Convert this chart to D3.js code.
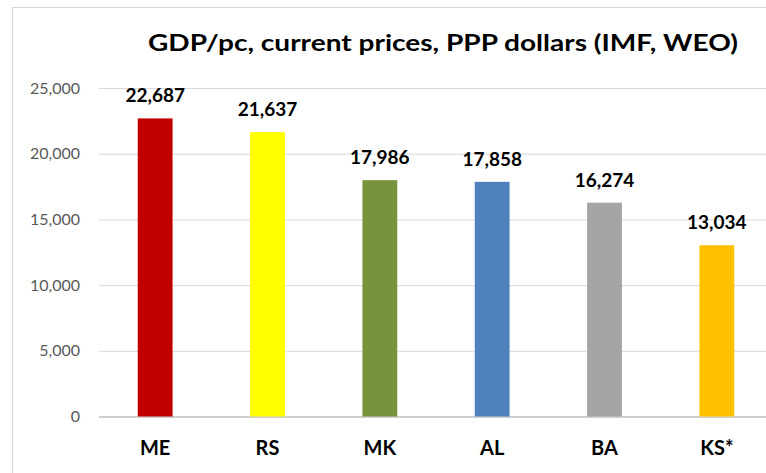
<!DOCTYPE html>
<html>
<head>
<meta charset="utf-8">
<script src="https://cdn.jsdelivr.net/npm/d3@7"></script>
<style>
    body { margin: 0; background: #fff; }
    svg { display: block; font-family: Lato, "Open Sans", sans-serif; }
</style>
</head>
<body>
<div id="viz-gdp"></div>
<script>
/**********************/
/******* data         */
/**********************/

const countries = ["ME", "RS", "MK", "AL", "BA", "KS*"];
const gdpValues = [22687, 21637, 17986, 17858, 16274, 13034];
const barColors = ["#c00000", "#ffff00", "#77933c", "#4f81bd", "#a5a5a5", "#ffc000"];
const yTicks = [0, 5000, 10000, 15000, 20000, 25000];
const chartTitle = "GDP/pc, current prices, PPP dollars (IMF, WEO)";

const gdpData = countries.map((c, i) => ({ country: c, value: gdpValues[i], color: barColors[i] }));

/**********************/
/******* d3           */
/**********************/

const width = 766, height = 473;
const margin = { top: 88, right: -7, bottom: 56, left: 99 };

const svg = d3.select("#viz-gdp")
    .append("svg")
    .attr("width", width)
    .attr("height", height);

// outer frame like the excel chart area
svg.append("rect")
    .attr("x", 12.5)
    .attr("y", 7.5)
    .attr("width", width)
    .attr("height", height)
    .attr("fill", "none")
    .attr("stroke", "#d9d9d9");

svg.append("text")
    .attr("x", 443)
    .attr("y", 51)
    .attr("text-anchor", "middle")
    .attr("textLength", 590)
    .attr("lengthAdjust", "spacingAndGlyphs")
    .style("font-size", "23px")
    .style("font-weight", "bold")
    .style("fill", "#000")
    .text(chartTitle);

const x = d3.scaleBand()
    .domain(countries)
    .range([margin.left, width - margin.right])
    .paddingInner(0.69)
    .paddingOuter(0.345);

const y = d3.scaleLinear()
    .domain([0, 25000])
    .range([height - margin.bottom - 0.5, margin.top]);

// gridlines + tick labels
const yAxis = svg.append("g")
    .attr("transform", `translate(${margin.left}, 0)`)
    .call(d3.axisLeft(y)
        .tickValues(yTicks)
        .tickFormat(d3.format(","))
        .tickSize(-(width - margin.left))
        .tickPadding(19));

yAxis.select(".domain").remove();
yAxis.selectAll(".tick line")
    .attr("stroke", d => d === 0 ? "#bfbfbf" : "#d9d9d9")
    .attr("stroke-width", d => d === 0 ? 1.5 : 1);
yAxis.selectAll(".tick text")
    .style("font-size", "16px")
    .style("font-family", "Lato, sans-serif")
    .style("fill", "#595959");

// bars
svg.selectAll(".bar")
    .data(gdpData)
    .enter()
    .append("rect")
    .attr("class", "bar")
    .attr("x", d => x(d.country))
    .attr("y", d => y(d.value))
    .attr("width", x.bandwidth())
    .attr("height", d => y(0) - y(d.value))
    .style("fill", d => d.color);

// value labels
svg.selectAll(".value-label")
    .data(gdpData)
    .enter()
    .append("text")
    .attr("class", "value-label")
    .attr("x", d => x(d.country) + x.bandwidth() / 2)
    .attr("y", d => y(d.value) - 16)
    .attr("text-anchor", "middle")
    .style("font-size", "19px")
    .style("font-weight", "bold")
    .style("fill", "#000")
    .text(d => d3.format(",")(d.value));

// category labels
const xAxis = svg.append("g")
    .attr("transform", `translate(0, ${y(0)})`)
    .call(d3.axisBottom(x).tickSize(0).tickPadding(24));

xAxis.select(".domain").remove();
xAxis.selectAll(".tick text")
    .style("font-size", "20px")
    .style("font-weight", "bold")
    .style("font-family", "Lato, sans-serif")
    .style("fill", "#000");
</script>
</body>
</html>
